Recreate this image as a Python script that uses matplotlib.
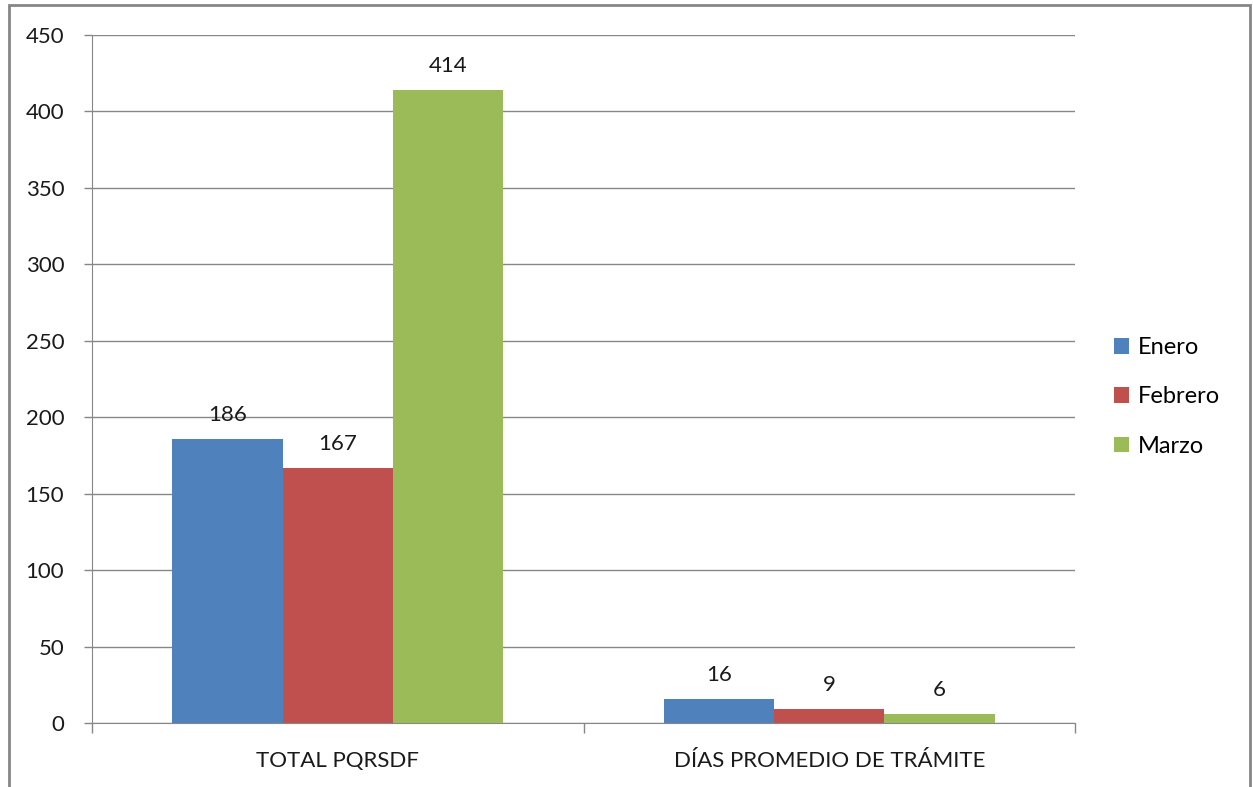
import matplotlib.pyplot as plt
import numpy as np
from matplotlib.patches import Rectangle

plt.rcParams['font.family'] = ['Lato', 'DejaVu Sans']

categories = ["TOTAL PQRSDF", "DÍAS PROMEDIO DE TRÁMITE"]
series = ["Enero", "Febrero", "Marzo"]
enero = [186, 16]
febrero = [167, 9]
marzo = [414, 6]
colors = ["#4F81BD", "#C0504D", "#9BBB59"]

fig = plt.figure(figsize=(12.53, 7.87), dpi=100)
ax = fig.add_axes([92/1253, 1-723/787, (1075-92)/1253, (723-35)/787])

# outer chart border
fig.patches.append(Rectangle((9/1253, -0.01), (1250-9)/1253, 1-5/787+0.01,
                             transform=fig.transFigure, fill=False,
                             edgecolor="#868686", linewidth=2))

x = np.arange(len(categories))
w = 0.2245
for i, (vals, name) in enumerate(zip([enero, febrero, marzo], series)):
    bars = ax.bar(x + (i-1)*w, vals, w, color=colors[i], label=name, zorder=3)
    for b, v in zip(bars, vals):
        ax.annotate(str(v), (b.get_x()+b.get_width()/2, v), xytext=(0, 10),
                    textcoords="offset points", ha="center", va="bottom",
                    fontsize=16, color="#1a1a1a")

ax.set_xlim(-0.5, 1.5)
ax.set_ylim(0, 450)
ax.set_yticks(np.arange(0, 451, 50))
ax.grid(axis="y", color="#878787", linewidth=1, zorder=0)
ax.set_xticks(x)
ax.set_xticklabels(categories)
ax.set_xticks([-0.5, 0.5, 1.5], minor=True)
ax.tick_params(axis="x", which="major", length=0, pad=20, labelsize=16, labelcolor="#1a1a1a")
ax.tick_params(axis="x", which="minor", length=7, color="#878787", width=1)
ax.tick_params(axis="y", length=6, color="#878787", width=1, pad=14, labelsize=16, labelcolor="#1a1a1a")
for s in ["top", "right"]:
    ax.spines[s].set_visible(False)
ax.spines["left"].set_color("#878787")
ax.spines["bottom"].set_color("#878787")

ax.legend(loc="center left", bbox_to_anchor=(1.018, 0.474), frameon=False,
          fontsize=17, handlelength=0.65, handleheight=0.65, labelspacing=1.2,
          handletextpad=0.35)

fig.savefig("out.png", dpi=100)
